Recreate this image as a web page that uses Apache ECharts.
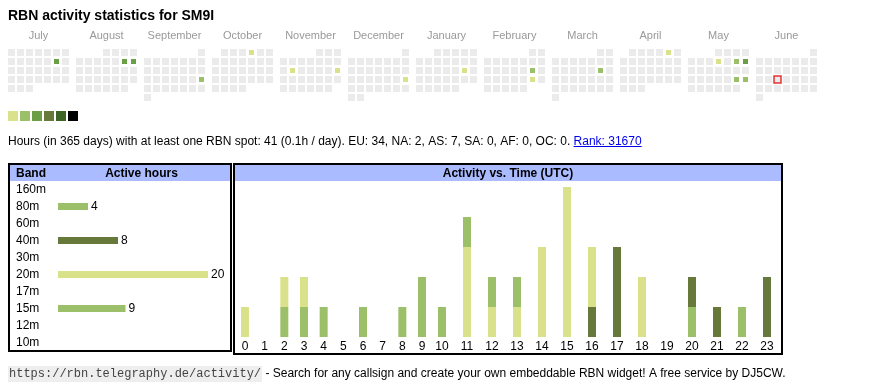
<!DOCTYPE html>
<html><head><meta charset="utf-8">
<script src="https://cdn.jsdelivr.net/npm/echarts@6/dist/echarts.min.js"></script>
<style>html,body{margin:0;padding:0;background:#fff}#c{width:870px;height:390px}</style>
</head><body><div id="c"></div>
<script>
// ---------- data ----------
const callsign = 'SM9I';
const months = ['2024-07','2024-08','2024-09','2024-10','2024-11','2024-12','2025-01','2025-02','2025-03','2025-04','2025-05','2025-06'];
const monthNames = ['July','August','September','October','November','December','January','February','March','April','May','June'];
const activeDays = ['2024-07-13','2024-08-10','2024-08-11','2024-09-22','2024-10-04','2024-11-12','2024-11-17','2024-12-22','2025-01-18','2025-02-15','2025-02-22','2025-03-15','2025-04-05','2025-05-08','2025-05-10','2025-05-11','2025-05-24','2025-05-25'];
const dayHours   = [5,5,5,2,1,1,1,1,1,2,1,2,1,1,2,6,2,2];
const today = '2025-06-18';
const levelMin = [1,2,4,8,12,16];
const levelMax = [1,3,7,11,15,24];
const bands = ['160m','80m','60m','40m','30m','20m','17m','15m','12m','10m'];
const bandHours = [0,4,0,8,0,20,0,9,0,0];
const hourLabels = ['0','1','2','3','4','5','6','7','8','9','10','11','12','13','14','15','16','17','18','19','20','21','22','23'];
const hours80m = [0,0,1,1,0,0,0,0,0,0,0,0,0,0,0,0,0,0,0,0,1,0,1,0];
const hours40m = [0,0,0,0,0,0,0,0,0,0,0,0,0,0,0,0,1,3,0,0,1,1,0,2];
const hours20m = [1,0,1,1,0,0,0,0,0,0,0,3,1,1,3,5,2,0,2,0,0,0,0,0];
const hours15m = [0,0,0,0,1,0,1,0,1,2,1,1,1,1,0,0,0,0,0,0,0,0,0,0];
const continents = ['EU','NA','AS','SA','AF','OC'];
const continentHours = [34,2,7,0,0,0];
const rank = 31670;

// ---------- styles ----------
const levelColors = ['#d9e18a','#9cc06a','#6a9f45','#66793a','#3b6426','#000000'];
const bandColors = {'80m':'#9cc06a','40m':'#66793a','20m':'#d9e18a','15m':'#9cc06a'};
const SANS = '"Liberation Sans", Arial, sans-serif';
const MONO = '"Liberation Mono", "Courier New", monospace';

const ctx = document.createElement('canvas').getContext('2d');
function tw(t, font){ ctx.font = font; return ctx.measureText(t).width; }

const totalHours = bandHours.reduce((a,b)=>a+b,0);
const statsText = 'Hours (in 365 days) with at least one RBN spot: ' + totalHours + ' (' + (totalHours/365).toFixed(1) + 'h / day). ' +
  continents.map((c,i)=>c + ': ' + continentHours[i]).join(', ') + '. ';
const linkText = 'Rank: ' + rank;
const infoFont = '12px ' + SANS;
const linkX = 8 + tw(statsText, infoFont);
const linkW = tw(linkText, infoFont);

const hourSeries = [
  {name:'80m', data:hours80m},
  {name:'40m', data:hours40m},
  {name:'20m', data:hours20m},
  {name:'15m', data:hours15m}
];
const totals = hourLabels.map((h,i)=>hourSeries.reduce((s,b)=>s+b.data[i],0));
const maxTotal = Math.max(...totals);
const split = 10;

const calendars = months.map((m,i)=>({
  orient:'vertical', range:m, left:7+68*i, top:48, cellSize:[9,9],
  splitLine:{show:false}, dayLabel:{show:false, firstDay:1}, monthLabel:{show:false}, yearLabel:{show:false},
  itemStyle:{color:'#ebebeb', borderColor:'#ffffff', borderWidth:2}
}));

const series = [];
series.push({
  type:'bar', xAxisIndex:0, yAxisIndex:0, barWidth:7,
  data: bandHours.map((v,i)=>({value:v, itemStyle:{color:bandColors[bands[i]] || '#9cc06a'}})),
  label:{show:true, position:'right', distance:3, color:'#000', fontSize:12, fontFamily:SANS,
    formatter:p=>p.value ? String(p.value) : ''}
});
[0,1].forEach(g=>{
  hourSeries.forEach(b=>{
    series.push({
      type:'bar', name:b.name, xAxisIndex:g+1, yAxisIndex:g+1, stack:'s'+g, barWidth:8,
      itemStyle:{color:bandColors[b.name]},
      data: g===0 ? b.data.slice(0,split) : b.data.slice(split)
    });
  });
});
const heatIdx = [];
months.forEach((m,i)=>{
  heatIdx.push(series.length);
  const data = activeDays.map((d,k)=>[d, dayHours[k]]).filter(x=>x[0].slice(0,7)===m);
  series.push({type:'heatmap', coordinateSystem:'calendar', calendarIndex:i, data:data,
    itemStyle:{borderColor:'#ffffff', borderWidth:2}});
});
series.push({type:'scatter', coordinateSystem:'calendar', calendarIndex:months.indexOf(today.slice(0,7)),
  data:[[today,1]], symbol:'rect', symbolSize:7, silent:true,
  itemStyle:{color:'rgba(0,0,0,0)', borderColor:'#e00000', borderWidth:1.5}});

const graphic = [
  {type:'text', x:8, y:16, style:{text:'RBN activity statistics for ' + callsign, font:'bold 14px ' + SANS, fill:'#000', verticalAlign:'middle'}},
  ...monthNames.map((n,i)=>({type:'text', x:38.5+68*i, y:35.5, style:{text:n, font:'11px ' + SANS, fill:'#999999', align:'center', verticalAlign:'middle'}})),
  {type:'text', x:8, y:142, style:{text:statsText, font:infoFont, fill:'#000', verticalAlign:'middle'}},
  {type:'text', x:linkX, y:142, style:{text:linkText, font:infoFont, fill:'#0000ee', verticalAlign:'middle'}},
  {type:'line', shape:{x1:linkX, y1:146.5, x2:linkX+linkW, y2:146.5}, style:{stroke:'#0000ee', lineWidth:1}},
  // boxes
  {type:'rect', shape:{x:10, y:165, width:220, height:16}, style:{fill:'#aabbff'}},
  {type:'rect', shape:{x:235, y:165, width:546, height:16}, style:{fill:'#aabbff'}},
  {type:'rect', shape:{x:9, y:164, width:222, height:187}, style:{fill:'none', stroke:'#000', lineWidth:2}},
  {type:'rect', shape:{x:234, y:164, width:548, height:190}, style:{fill:'none', stroke:'#000', lineWidth:2}},
  {type:'text', x:16, y:173.5, style:{text:'Band', font:'bold 12px ' + SANS, fill:'#000', verticalAlign:'middle'}},
  {type:'text', x:141.5, y:173.5, style:{text:'Active hours', font:'bold 12px ' + SANS, fill:'#000', align:'center', verticalAlign:'middle'}},
  {type:'text', x:508, y:173.5, style:{text:'Activity vs. Time (UTC)', font:'bold 12px ' + SANS, fill:'#000', align:'center', verticalAlign:'middle'}},
  // footer
  {type:'text', x:8, y:374, style:{
    text:'{u|https://rbn.telegraphy.de/activity/}{t| - Search for any callsign and create your own embeddable RBN widget! A free service by DJ5CW.}',
    verticalAlign:'middle',
    rich:{
      u:{fontFamily:MONO, fontSize:12, fill:'#444', backgroundColor:'#eeeeee', padding:[2,1]},
      t:{fontFamily:SANS, fontSize:12, fill:'#000'}
    }}}
];

const option = {
  animation:false,
  backgroundColor:'#fff',
  calendar: calendars,
  visualMap: {
    type:'piecewise', seriesIndex:heatIdx, orient:'horizontal', left:8, top:111,
    itemWidth:10, itemHeight:10, itemGap:2, showLabel:false, itemSymbol:'rect', padding:0,
    selectedMode:false,
    pieces: levelMin.map((mn,i)=>({min:mn, max:levelMax[i], color:levelColors[i]}))
  },
  grid: [
    {left:58, top:181, width:150, height:170},
    {left:235.15, top:187, width:196.7, height:150},
    {left:429.5, top:187, width:350, height:150}
  ],
  xAxis: [
    {type:'value', gridIndex:0, min:0, max:Math.max(...bandHours), show:false},
    {type:'category', gridIndex:1, data:hourLabels.slice(0,split), axisLine:{show:false}, axisTick:{show:false},
      axisLabel:{interval:0, margin:4, fontSize:12, color:'#000', fontFamily:SANS}},
    {type:'category', gridIndex:2, data:hourLabels.slice(split), axisLine:{show:false}, axisTick:{show:false},
      axisLabel:{interval:0, margin:4, fontSize:12, color:'#000', fontFamily:SANS}}
  ],
  yAxis: [
    {type:'category', gridIndex:0, data:bands, inverse:true, axisLine:{show:false}, axisTick:{show:false},
      axisLabel:{align:'left', margin:42, fontSize:12, color:'#000', fontFamily:SANS}},
    {type:'value', gridIndex:1, min:0, max:maxTotal, show:false, splitLine:{show:false}},
    {type:'value', gridIndex:2, min:0, max:maxTotal, show:false, splitLine:{show:false}}
  ],
  graphic: graphic,
  series: series
};
const chart = echarts.init(document.getElementById('c'), null, {renderer:'canvas'});
chart.setOption(option);
</script></body></html>
